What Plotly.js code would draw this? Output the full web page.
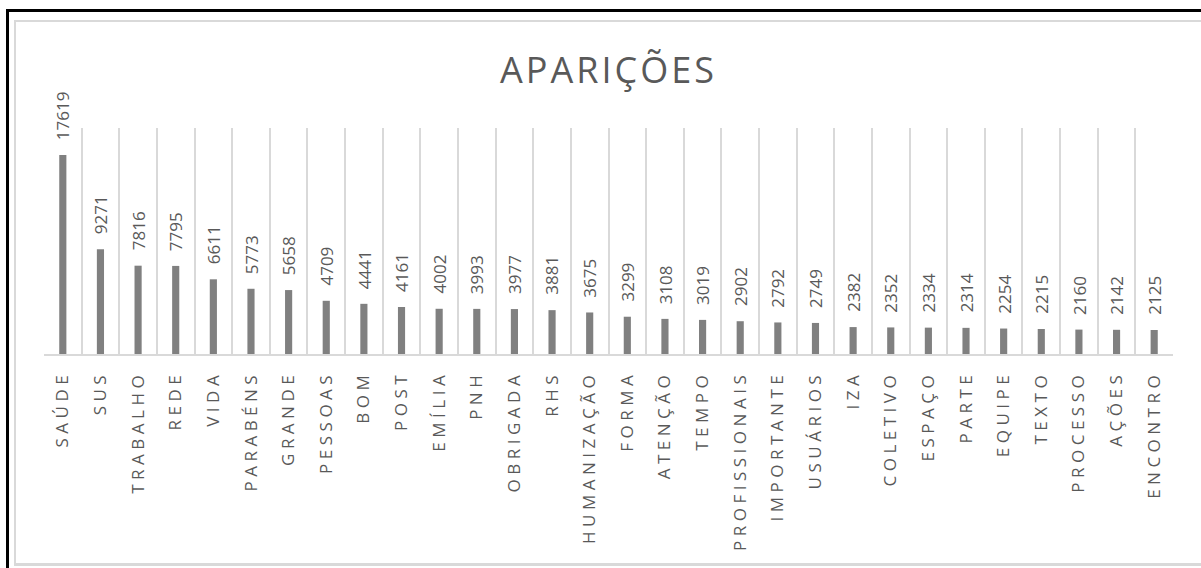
<!DOCTYPE html>
<html>
<head>
<meta charset="utf-8">
<script src="https://cdn.plot.ly/plotly-3.0.1.min.js"></script>
<style>
  html, body { margin: 0; padding: 0; background: #fff; }
  #wrap { position: relative; width: 1201px; height: 568px; overflow: hidden; }
  #chart { position: absolute; left: 0; top: 0; width: 1201px; height: 568px; }
  #outer { position: absolute; left: 6px; top: 9px; width: 1300px; height: 700px;
           border-left: 3px solid #000; border-top: 3px solid #000; pointer-events: none; }
  #inner { position: absolute; left: 14px; top: 20px; width: 1300px; height: 541px;
           border-left: 2px solid #d9d9d9; border-top: 2px solid #d9d9d9; border-bottom: 3px solid #d9d9d9; pointer-events: none; }
  .xtick text { letter-spacing: 4.5px; }
  .gtitle { letter-spacing: 3px; }
</style>
</head>
<body>
<div id="wrap">
  <div id="chart"></div>
  <div id="outer"></div>
  <div id="inner"></div>
</div>
<script>
const categories = ["SAÚDE","SUS","TRABALHO","REDE","VIDA","PARABÉNS","GRANDE","PESSOAS","BOM","POST",
  "EMÍLIA","PNH","OBRIGADA","RHS","HUMANIZAÇÃO","FORMA","ATENÇÃO","TEMPO","PROFISSIONAIS","IMPORTANTE",
  "USUÁRIOS","IZA","COLETIVO","ESPAÇO","PARTE","EQUIPE","TEXTO","PROCESSO","AÇÕES","ENCONTRO"];
const values = [17619,9271,7816,7795,6611,5773,5658,4709,4441,4161,
  4002,3993,3977,3881,3675,3299,3108,3019,2902,2792,
  2749,2382,2352,2334,2314,2254,2215,2160,2142,2125];
const chartTitle = "APARIÇÕES";

const grayText = "#595959";

const trace = {
  type: "bar",
  x: categories,
  y: values,
  marker: { color: "#808080" },
  hoverinfo: "skip"
};

const annotations = categories.map((c, i) => ({
  x: c, y: values[i], xref: "x", yref: "y",
  text: String(values[i]),
  showarrow: false,
  textangle: -90,
  xanchor: "center", yanchor: "bottom",
  yshift: 13,
  font: { family: "Open Sans, sans-serif", size: 17, color: grayText }
}));

const layout = {
  width: 1201, height: 568,
  margin: { l: 44, r: 28, t: 128, b: 214 },
  paper_bgcolor: "rgba(0,0,0,0)",
  plot_bgcolor: "rgba(0,0,0,0)",
  bargap: 0.81,
  showlegend: false,
  title: {
    text: chartTitle,
    x: 0.5, xref: "paper", xanchor: "center",
    y: 1 - 70/568, yref: "container", yanchor: "middle",
    font: { family: "Open Sans, sans-serif", size: 36, color: grayText }
  },
  xaxis: {
    type: "category",
    tickson: "boundaries",
    showgrid: true, gridcolor: "#d9d9d9", gridwidth: 2,
    showline: true, linecolor: "#d9d9d9", linewidth: 2,
    ticks: "", tickangle: -90,
    ticklabelstandoff: 8,
    tickfont: { family: "Open Sans, sans-serif", size: 17, color: grayText },
    automargin: false, fixedrange: true
  },
  yaxis: {
    range: [0, 20000],
    showgrid: false, zeroline: false, showline: false,
    showticklabels: false, ticks: "",
    automargin: false, fixedrange: true
  },
  annotations: annotations,
  hovermode: false
};

Plotly.newPlot("chart", [trace], layout, { displayModeBar: false, staticPlot: true });
</script>
</body>
</html>
